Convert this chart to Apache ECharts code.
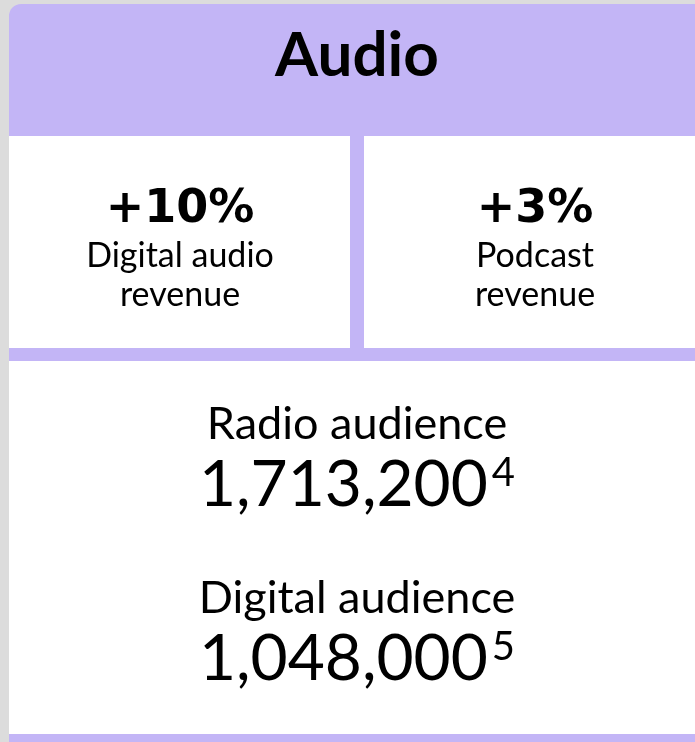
<!DOCTYPE html>
<html lang="en">
<head>
  <meta charset="UTF-8">
  <title>Audio</title>
  <style>
    html, body { margin: 0; padding: 0; background: #dcdcdc; }
    #chart { width: 695px; height: 742px; }
  </style>
</head>
<body>
  <div id="chart"></div>
  <script src="https://cdn.jsdelivr.net/npm/echarts@6/dist/echarts.min.js"></script>
  <script>
    // panel data
    var title = 'Audio';
    var kpiValues = ['+10%', '+3%'];
    var kpiLabels = ['Digital audio\nrevenue', 'Podcast\nrevenue'];
    var audienceLabels = ['Radio audience', 'Digital audience'];
    var audienceValues = [1713200, 1048000];
    var audienceNotes = ['4', '5'];

    var purple = '#c3b5f6';
    var chart = echarts.init(document.getElementById('chart'));

    var elements = [
      // card background (purple shows through as the dividers)
      { type: 'rect', shape: { x: 9, y: 4, width: 720, height: 760, r: [12, 0, 0, 12] }, style: { fill: purple } },
      { type: 'rect', shape: { x: 9, y: 136, width: 341, height: 212 }, style: { fill: '#fff' } },
      { type: 'rect', shape: { x: 364, y: 136, width: 345, height: 212 }, style: { fill: '#fff' } },
      { type: 'rect', shape: { x: 9, y: 361, width: 700, height: 373 }, style: { fill: '#fff' } },
      {
        type: 'text', x: 357, y: 56,
        style: { text: title, fill: '#000', font: 'bold 62px Lato', textAlign: 'center', textVerticalAlign: 'middle' }
      }
    ];

    var kpiX = [180, 535];
    kpiValues.forEach(function (v, i) {
      elements.push({
        type: 'text', x: kpiX[i], y: 210,
        style: { text: v, fill: '#000', font: 'bold 46px "DejaVu Sans"', textAlign: 'center', textVerticalAlign: 'middle' }
      });
      elements.push({
        type: 'text', x: kpiX[i], y: 276,
        style: {
          text: kpiLabels[i], fill: '#000', font: '34px Lato', lineHeight: 39,
          textAlign: 'center', textVerticalAlign: 'middle'
        }
      });
    });

    var audY = [424, 598];
    audienceLabels.forEach(function (label, i) {
      elements.push({
        type: 'text', x: 357, y: audY[i],
        style: { text: label, fill: '#000', font: '45px Lato', textAlign: 'center', textVerticalAlign: 'middle' }
      });
      elements.push({
        type: 'text', x: 357, y: audY[i] + 61,
        style: {
          text: '{n|' + audienceValues[i].toLocaleString('en-US') + '}{s|' + audienceNotes[i] + '}',
          textAlign: 'center', textVerticalAlign: 'middle',
          rich: {
            n: { fontSize: 64, fontFamily: 'Lato', color: '#000' },
            s: { fontSize: 40, fontFamily: 'Lato', color: '#000', verticalAlign: 'top', padding: [0, 0, 0, 4] }
          }
        }
      });
    });

    chart.setOption({
      backgroundColor: '#dcdcdc',
      graphic: { elements: elements }
    });
  </script>
</body>
</html>
